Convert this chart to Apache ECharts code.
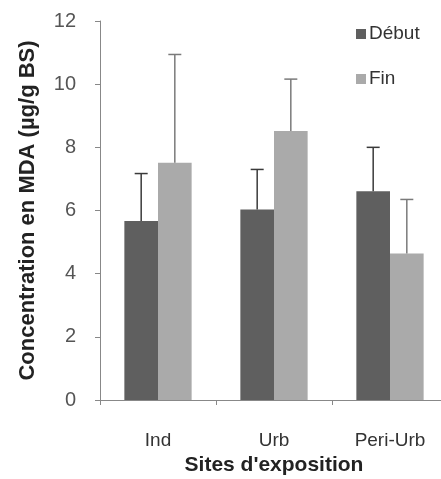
<!DOCTYPE html>
<html>
<head>
<meta charset="utf-8">
<script src="https://cdn.jsdelivr.net/npm/echarts@6/dist/echarts.min.js"></script>
<style>
  html, body { margin: 0; padding: 0; background: #fff; overflow: hidden; }
  #chart { width: 448px; height: 479px; }
</style>
</head>
<body>
<div id="chart"></div>
<script>
// sites et valeurs
var sites = ['Ind', 'Urb', 'Peri-Urb'];
var debut = [5.67, 6.03, 6.61];
var debutHaut = [7.17, 7.30, 8.00];
var fin = [7.51, 8.52, 4.64];
var finHaut = [10.94, 10.16, 6.35];
var yTicks = [0, 2, 4, 6, 8, 10, 12];

var couleurDebut = '#5f5f5f';
var couleurFin = '#aaaaaa';

// barre d'erreur : trait vertical + petit chapeau
function errorItem(side, color) {
  return function (params, api) {
    var idx = api.value(0);
    var low = api.coord([idx, api.value(1)]);
    var high = api.coord([idx, api.value(2)]);
    var band = api.size([1, 0])[0];
    var barW = band * (1 - 0.42) / 2;
    var x = low[0] + side * barW / 2;
    var cap = 6.5;
    return {
      type: 'group',
      children: [
        { type: 'line', shape: { x1: x, y1: low[1], x2: x, y2: high[1] }, style: { stroke: color, lineWidth: 1.5 } },
        { type: 'line', shape: { x1: x - cap, y1: high[1], x2: x + cap, y2: high[1] }, style: { stroke: color, lineWidth: 1.5 } }
      ]
    };
  };
}

var errDebut = sites.map(function (s, i) { return [i, debut[i], debutHaut[i]]; });
var errFin = sites.map(function (s, i) { return [i, fin[i], finHaut[i]]; });

var chart = echarts.init(document.getElementById('chart'));
var option = {
  backgroundColor: '#fff',
  animation: false,
  grid: { left: 100, top: 21, width: 348, height: 379, outerBoundsMode: 'none', containLabel: false },
  legend: {
    orient: 'vertical',
    left: 351,
    top: 19,
    itemGap: 25,
    itemWidth: 10,
    itemHeight: 10,
    icon: 'rect',
    data: ['Début', 'Fin'],
    textStyle: { color: '#333', fontSize: 19, lineHeight: 20, fontFamily: 'Liberation Sans', padding: [0, 0, 0, -2] }
  },
  xAxis: {
    type: 'category',
    data: sites,
    name: "Sites d'exposition",
    nameLocation: 'middle',
    nameGap: 55,
    nameTextStyle: { color: '#222', fontSize: 21, fontWeight: 'bold', fontFamily: 'Liberation Sans' },
    axisLine: { lineStyle: { color: '#888', width: 1 } },
    axisTick: { show: true, length: 5, lineStyle: { color: '#888' } },
    axisLabel: { color: '#333', fontSize: 19, margin: 31, fontFamily: 'Liberation Sans' }
  },
  yAxis: {
    type: 'value',
    min: 0,
    max: 12,
    interval: 2,
    name: 'Concentration en MDA (µg/g BS)',
    nameLocation: 'middle',
    nameGap: 61,
    nameRotate: 90,
    nameTextStyle: { color: '#222', fontSize: 22, fontWeight: 'bold', fontFamily: 'Liberation Sans' },
    axisLine: { show: true, lineStyle: { color: '#888', width: 1 } },
    axisTick: { show: true, length: 5, lineStyle: { color: '#888' } },
    splitLine: { show: false },
    axisLabel: {
      color: '#555', fontSize: 20, margin: 24, fontFamily: 'Liberation Sans',
      formatter: function (v) { return yTicks.indexOf(v) >= 0 ? String(v) : ''; }
    }
  },
  series: [
    { name: 'Début', type: 'bar', data: debut, barGap: '0%', barCategoryGap: '42%', itemStyle: { color: couleurDebut } },
    { name: 'Fin', type: 'bar', data: fin, barGap: '0%', barCategoryGap: '42%', itemStyle: { color: couleurFin } },
    { type: 'custom', renderItem: errorItem(-1, '#3a3a3a'), data: errDebut, z: 5, encode: { x: 0, y: [1, 2] } },
    { type: 'custom', renderItem: errorItem(1, '#7a7a7a'), data: errFin, z: 5, encode: { x: 0, y: [1, 2] } }
  ]
};
chart.setOption(option);
</script>
</body>
</html>
